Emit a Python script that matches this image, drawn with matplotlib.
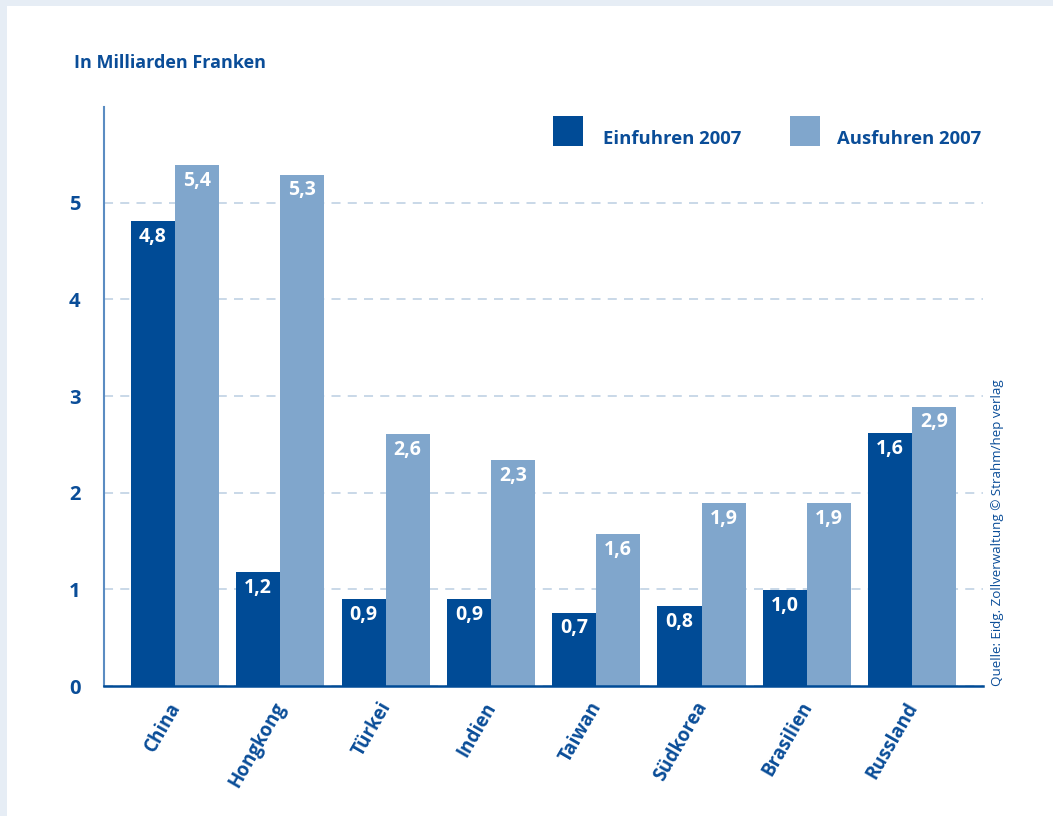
import numpy as np
import matplotlib
matplotlib.use("Agg")
from matplotlib import pyplot as plt
from matplotlib.patches import Rectangle

countries = ['China', 'Hongkong', 'Türkei', 'Indien', 'Taiwan', 'Südkorea', 'Brasilien', 'Russland']
# bar heights as drawn in the picture
einfuhren = [4.81, 1.18, 0.90, 0.90, 0.76, 0.83, 0.99, 2.62]
ausfuhren = [5.39, 5.29, 2.61, 2.34, 1.57, 1.89, 1.89, 2.89]
# printed value labels
einfuhren_lbl = ['4,8', '1,2', '0,9', '0,9', '0,7', '0,8', '1,0', '1,6']
ausfuhren_lbl = ['5,4', '5,3', '2,6', '2,3', '1,6', '1,9', '1,9', '2,9']
yticks = [0, 1, 2, 3, 4, 5]

dark = '#004b96'
light = '#80a6cc'
txt = '#0a4d98'
plt.rcParams['font.family'] = ['Open Sans', 'DejaVu Sans']

fig = plt.figure(figsize=(10.53, 8.16), dpi=100)
fig.patch.set_facecolor('#e6edf5')
# white panel
fig.patches.append(Rectangle((7 / 1053, 0), 1, 1 - 6 / 816, transform=fig.transFigure,
                             facecolor='white', edgecolor='none', zorder=-10))

ax = fig.add_axes([104 / 1053, 130 / 816, 879 / 1053, 579 / 816])
ax.set_facecolor('none')
x = np.arange(len(countries))
w = 0.418
b1 = ax.bar(x - w / 2, einfuhren, w, color=dark, zorder=3)
b2 = ax.bar(x + w / 2, ausfuhren, w, color=light, zorder=3)

for bars, lbls in ((b1, einfuhren_lbl), (b2, ausfuhren_lbl)):
    for r, l in zip(bars, lbls):
        ax.text(r.get_x() + r.get_width() / 2, r.get_height() - 0.06, l,
                ha='center', va='top', color='white', fontsize=14, fontweight='bold', zorder=4)

ax.set_xlim(-0.674, 7.673)
ax.set_ylim(0, 5.99)
ax.set_yticks(yticks)
ax.set_yticklabels([str(t) for t in yticks])
ax.yaxis.grid(True, color='#c5d5e6', linestyle=(0, (5, 4)), linewidth=1.3, zorder=1)
ax.set_axisbelow(True)
ax.tick_params(axis='y', length=0, pad=17, labelsize=14.5, labelcolor=txt)
ax.tick_params(axis='x', length=0, pad=9, labelsize=13.5, labelcolor=txt)
for t in ax.get_yticklabels():
    t.set_fontweight('bold')
ax.set_xticks(x - 0.07)
ax.set_xticklabels(countries, rotation=60, ha='right', va='top', rotation_mode='anchor', fontweight='bold')

for s in ('top', 'right'):
    ax.spines[s].set_visible(False)
ax.spines['left'].set_color('#5b8cc2')
ax.spines['left'].set_linewidth(1.5)
ax.spines['bottom'].set_color(dark)
ax.spines['bottom'].set_linewidth(1.8)
ax.spines['bottom'].set_zorder(5)

fig.text(74 / 1053, 1 - 63 / 816, 'In Milliarden Franken', color=txt, fontsize=13,
         fontweight='bold', va='center', ha='left')

# legend
for x0, col, lab, tx in ((553, dark, 'Einfuhren 2007', 603), (790, light, 'Ausfuhren 2007', 837)):
    fig.patches.append(Rectangle((x0 / 1053, 1 - 146 / 816), 30 / 1053, 30 / 816,
                                 transform=fig.transFigure, facecolor=col, edgecolor='none'))
    fig.text(tx / 1053, 1 - 139 / 816, lab, color=txt, fontsize=13.3, fontweight='bold',
             va='center', ha='left')

fig.text(997 / 1053, 1 - 686 / 816, 'Quelle: Eidg. Zollverwaltung © Strahm/hep verlag',
         rotation=90, color=txt, fontsize=9.6, ha='center', va='bottom')

fig.savefig('out.png', dpi=100, facecolor=fig.get_facecolor())
